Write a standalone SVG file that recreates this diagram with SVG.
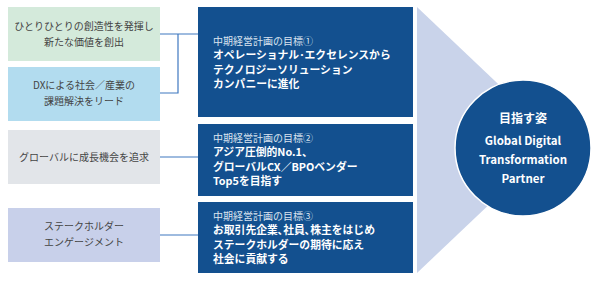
<svg xmlns="http://www.w3.org/2000/svg" width="600" height="281" viewBox="0 0 600 281">
<style>
.lt{font-family:"Noto Sans CJK JP","Noto Sans",sans-serif;font-size:10px;fill:#444;text-anchor:middle}
.tt{font-family:"Noto Sans CJK JP","Noto Sans",sans-serif;font-size:10px;fill:#dbe4f0}
.bt{font-family:"Noto Sans CJK JP","Noto Sans",sans-serif;font-size:10.8px;font-weight:bold;fill:#fff}
.ct{font-family:"Noto Sans CJK JP","Noto Sans",sans-serif;font-size:11.5px;font-weight:bold;fill:#fff;text-anchor:middle}
.dk{fill:#13508f}
.cn{fill:none;stroke:#3f78c0;stroke-width:1.2}
</style>
<rect width="600" height="281" fill="#fff"/>
<polygon id="triangle" points="417,7 417,273 557,140" fill="#c9d3ea"/>
<g id="connectors">
<polyline class="cn" points="160,34 198,34"/>
<polyline class="cn" points="160,93 178,93 178,34"/>
<line class="cn" x1="160" y1="157" x2="198" y2="157"/>
<line class="cn" x1="160" y1="235" x2="198" y2="235"/>
</g>
<g id="left1">
<rect x="8" y="7" width="152" height="54" fill="#d4eadb"/>
<text class="lt" x="84" y="30">ひとりひとりの創造性を発揮し</text>
<text class="lt" x="84" y="46">新たな価値を創出</text>
</g>
<g id="left2">
<rect x="8" y="67" width="152" height="54" fill="#b2dcef"/>
<text class="lt" x="84" y="89">DXによる社会／産業の</text>
<text class="lt" x="84" y="105">課題解決をリード</text>
</g>
<g id="left3">
<rect x="8" y="130" width="152" height="54" fill="#e2e5e9"/>
<text class="lt" x="84" y="161">グローバルに成長機会を追求</text>
</g>
<g id="left4">
<rect x="8" y="208" width="152" height="54" fill="#c8d0ea"/>
<text class="lt" x="84" y="230">ステークホルダー</text>
<text class="lt" x="84" y="246">エンゲージメント</text>
</g>
<g id="goal1">
<rect class="dk" x="198" y="7" width="215" height="110"/>
<text class="tt" x="213" y="44.5">中期経営計画の目標①</text>
<text class="bt" x="213" y="59">オペレーショナル･エクセレンスから</text>
<text class="bt" x="213" y="73.5">テクノロジーソリューション</text>
<text class="bt" x="213" y="88">カンパニーに進化</text>
</g>
<g id="goal2">
<rect class="dk" x="198" y="124" width="215" height="72"/>
<text class="tt" x="213" y="141.5">中期経営計画の目標②</text>
<text class="bt" x="213" y="156">アジア圧倒的No.1、</text>
<text class="bt" x="213" y="170.5">グローバルCX／BPOベンダー</text>
<text class="bt" x="213" y="185">Top5を目指す</text>
</g>
<g id="goal3">
<rect class="dk" x="198" y="202" width="215" height="71"/>
<text class="tt" x="213" y="219.5">中期経営計画の目標③</text>
<text class="bt" x="213" y="234">お取引先企業､社員､株主をはじめ</text>
<text class="bt" x="213" y="248.5">ステークホルダーの期待に応え</text>
<text class="bt" x="213" y="263">社会に貢献する</text>
</g>
<g id="vision">
<circle cx="523" cy="148" r="68" fill="#13508f" stroke="#fff" stroke-width="1.5"/>
<text class="ct" x="523" y="123" style="font-size:12px">目指す姿</text>
<text class="ct" x="523" y="145">Global Digital</text>
<text class="ct" x="523" y="164">Transformation</text>
<text class="ct" x="523" y="183">Partner</text>
</g>
</svg>
